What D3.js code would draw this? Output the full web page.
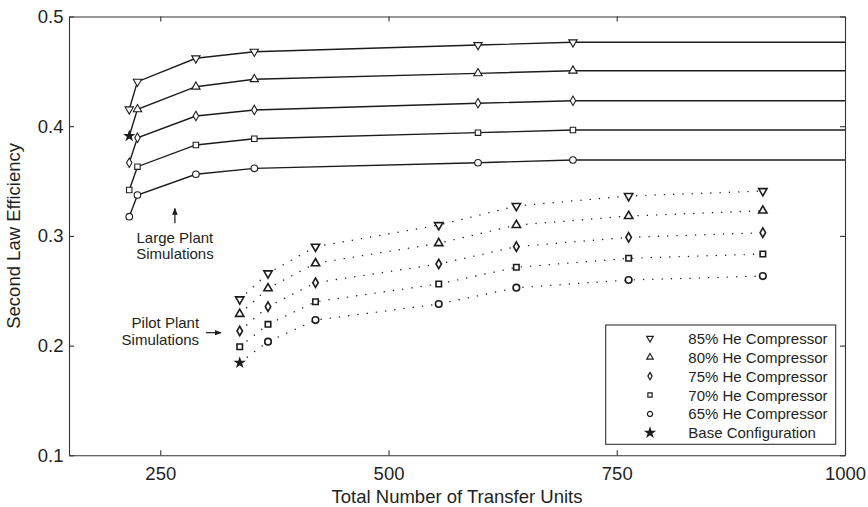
<!DOCTYPE html>
<html>
<head>
<meta charset="utf-8">
<script src="https://cdn.jsdelivr.net/npm/d3@7"></script>
<style>
  body { margin: 0; background: #fff; }
  text { font-family: "Liberation Sans", Arial, sans-serif; fill: #231f20; }
</style>
</head>
<body>
<script>
// values
var largeNTU = [216, 225, 289, 353, 598, 702];
var large85 = [0.4154, 0.4406, 0.4619, 0.4679, 0.4740, 0.4765];
var large80 = [0.3911, 0.4154, 0.4360, 0.4428, 0.4482, 0.4506];
var large75 = [0.3667, 0.3895, 0.4093, 0.4148, 0.4209, 0.4232];
var large70 = [0.3418, 0.3631, 0.3829, 0.3886, 0.3941, 0.3965];
var large65 = [0.3175, 0.3373, 0.3562, 0.3616, 0.3667, 0.3692];

var pilotNTU = [337, 368, 420, 555, 640, 763, 910];
var pilot85 = [0.2422, 0.2659, 0.2902, 0.3099, 0.3273, 0.3364, 0.3409];
var pilot80 = [0.2288, 0.2522, 0.2750, 0.2933, 0.3099, 0.3181, 0.3230];
var pilot75 = [0.2133, 0.2355, 0.2573, 0.2744, 0.2902, 0.2987, 0.3029];
var pilot70 = [0.1990, 0.2194, 0.2400, 0.2562, 0.2714, 0.2796, 0.2835];
var pilot65 = [0.1844, 0.2036, 0.2233, 0.2379, 0.2528, 0.2598, 0.2634];

var seriesNames = ["85% He Compressor", "80% He Compressor", "75% He Compressor",
                   "70% He Compressor", "65% He Compressor"];
var baseName = "Base Configuration";
// which point is the base configuration: [series index, point index]
var baseLarge = [1, 0];
var basePilot = [4, 0];

var xTicks = [250, 500, 750, 1000];
var yTicks = [0.1, 0.2, 0.3, 0.4, 0.5];

var W = 868, H = 507;
var margin = { top: 16.5, right: 23, bottom: 51.7, left: 69 };

var svg = d3.select("body").append("svg")
    .attr("width", W)
    .attr("height", H);

var x = d3.scaleLinear().domain([150, 1000]).range([margin.left, W - margin.right]);
var y = d3.scaleLinear().domain([0.1, 0.5]).range([H - margin.bottom, margin.top]);

var ink = "#1c1c1c";

svg.append("defs").append("clipPath").attr("id", "plot")
  .append("rect")
    .attr("x", margin.left).attr("y", margin.top)
    .attr("width", x.range()[1] - x.range()[0])
    .attr("height", y.range()[0] - y.range()[1]);

// symbols per series
var shapes = [
  { type: d3.symbolTriangle, rot: 180, size: 30 },
  { type: d3.symbolTriangle, rot: 0, size: 30 },
  { type: d3.symbolDiamond, rot: 0, size: 26 },
  { type: d3.symbolSquare, rot: 0, size: 30 },
  { type: d3.symbolCircle, rot: 0, size: 34 }
];
var starSym = d3.symbol().type(d3.symbolStar).size(48);

var largeSets = [large85, large80, large75, large70, large65];
var pilotSets = [pilot85, pilot80, pilot75, pilot70, pilot65];

var line = d3.line()
    .x(function (d) { return x(d[0]); })
    .y(function (d) { return y(d[1]); });

var g = svg.append("g").attr("clip-path", "url(#plot)");

// large plant: solid lines, running flat out to the right edge
largeSets.forEach(function (vals, i) {
  var pts = largeNTU.map(function (n, j) { return [n, vals[j]]; });
  var ext = pts.concat([[x.domain()[1], vals[vals.length - 1]]]);
  g.append("path")
    .attr("d", line(ext))
    .attr("fill", "none")
    .attr("stroke", ink)
    .attr("stroke-width", 1.4);
});

// pilot plant: dotted lines
pilotSets.forEach(function (vals, i) {
  var pts = pilotNTU.map(function (n, j) { return [n, vals[j]]; });
  g.append("path")
    .attr("d", line(pts))
    .attr("fill", "none")
    .attr("stroke", ink)
    .attr("stroke-width", 1.4)
    .attr("stroke-linecap", "round")
    .attr("stroke-dasharray", "0.1,9.2");
});

function drawMarkers(ntu, sets, base, sw) {
  sets.forEach(function (vals, i) {
    var sh = shapes[i];
    var sym = d3.symbol().type(sh.type).size(sh.size);
    vals.forEach(function (v, j) {
      var isBase = (base[0] === i && base[1] === j);
      var t = "translate(" + x(ntu[j]) + "," + y(v) + ")";
      if (isBase) {
        svg.append("path")
          .attr("d", starSym())
          .attr("transform", t)
          .attr("fill", ink);
      } else {
        svg.append("path")
          .attr("d", sym())
          .attr("transform", t + " rotate(" + sh.rot + ")")
          .attr("fill", "#fff")
          .attr("stroke", ink)
          .attr("stroke-width", sw);
      }
    });
  });
}
drawMarkers(largeNTU, largeSets, baseLarge, 1.1);
drawMarkers(pilotNTU, pilotSets, basePilot, 1.6);

// axes, ticks inside on all four sides
var fs = "18.5px";
var xAxis = svg.append("g")
    .attr("transform", "translate(0," + y.range()[0] + ")")
    .call(d3.axisBottom(x).tickValues(xTicks).tickFormat(d3.format("d"))
      .tickSize(-5).tickSizeOuter(0).tickPadding(11.5));
var yAxis = svg.append("g")
    .attr("transform", "translate(" + x.range()[0] + ",0)")
    .call(d3.axisLeft(y).tickValues(yTicks).tickFormat(d3.format(".1f")).tickSize(-5).tickSizeOuter(0).tickPadding(5.5));
var xTop = svg.append("g")
    .attr("transform", "translate(0," + y.range()[1] + ")")
    .call(d3.axisTop(x).tickValues(xTicks).tickSize(-5).tickSizeOuter(0).tickFormat(""));
var yRight = svg.append("g")
    .attr("transform", "translate(" + x.range()[1] + ",0)")
    .call(d3.axisRight(y).tickValues(yTicks).tickSize(-5).tickSizeOuter(0).tickFormat(""));

[xAxis, yAxis, xTop, yRight].forEach(function (a) {
  a.selectAll("path, line").attr("stroke", "#333").attr("stroke-width", 1.1);
  a.selectAll("text")
    .attr("font-size", fs)
    .attr("font-family", "'Liberation Sans', Arial, sans-serif")
    .attr("fill", "#231f20");
});

svg.append("text")
    .attr("x", (x.range()[0] + x.range()[1]) / 2 + 0)
    .attr("y", 503)
    .attr("text-anchor", "middle")
    .attr("font-size", fs)
    .text("Total Number of Transfer Units");

svg.append("text")
    .attr("transform", "translate(19.5," + ((y.range()[0] + y.range()[1]) / 2) + ") rotate(-90)")
    .attr("text-anchor", "middle")
    .attr("font-size", fs)
    .text("Second Law Efficiency");

// annotations with arrows
var defs = svg.select("defs");
defs.append("marker")
    .attr("id", "arr")
    .attr("viewBox", "0 0 10 10")
    .attr("refX", 9).attr("refY", 5)
    .attr("markerWidth", 7).attr("markerHeight", 7)
    .attr("markerUnits", "userSpaceOnUse")
    .attr("orient", "auto")
  .append("path")
    .attr("d", "M0,1 L10,5 L0,9 Z")
    .attr("fill", ink);

svg.append("line")
    .attr("x1", x(266)).attr("y1", y(0.3115))
    .attr("x2", x(266)).attr("y2", y(0.3250))
    .attr("stroke", ink).attr("stroke-width", 1.2)
    .attr("marker-end", "url(#arr)");
var lp = svg.append("text")
    .attr("text-anchor", "middle")
    .attr("font-size", "15px");
lp.append("tspan").attr("x", x(266)).attr("y", y(0.2938)).text("Large Plant");
lp.append("tspan").attr("x", x(266)).attr("y", y(0.2787)).text("Simulations");

svg.append("line")
    .attr("x1", x(300)).attr("y1", y(0.2118))
    .attr("x2", x(316.5)).attr("y2", y(0.2118))
    .attr("stroke", ink).attr("stroke-width", 1.2)
    .attr("marker-end", "url(#arr)");
var pp = svg.append("text")
    .attr("text-anchor", "end")
    .attr("font-size", "15px");
pp.append("tspan").attr("x", x(292.5)).attr("y", y(0.2158)).text("Pilot Plant");
pp.append("tspan").attr("x", x(292.5)).attr("y", y(0.2005)).text("Simulations");

// legend
var leg = svg.append("g");
leg.append("rect")
    .attr("x", 605.7).attr("y", 325)
    .attr("width", 230).attr("height", 119.3)
    .attr("fill", "#fff")
    .attr("stroke", "#333")
    .attr("stroke-width", 1.1);
var rowY = function (i) { return 338.3 + i * 18.9; };
seriesNames.forEach(function (name, i) {
  var sh = shapes[i];
  leg.append("path")
    .attr("d", d3.symbol().type(sh.type).size(sh.size * 0.6)())
    .attr("transform", "translate(650," + rowY(i) + ") rotate(" + sh.rot + ")")
    .attr("fill", "#fff")
    .attr("stroke", ink)
    .attr("stroke-width", 1.2);
  leg.append("text")
    .attr("x", 688.3).attr("y", rowY(i) + 5.5)
    .attr("font-size", "15px")
    .text(name);
});
leg.append("path")
    .attr("d", starSym())
    .attr("transform", "translate(650," + rowY(5) + ")")
    .attr("fill", ink);
leg.append("text")
    .attr("x", 688.3).attr("y", rowY(5) + 5.5)
    .attr("font-size", "15px")
    .text(baseName);
</script>
</body>
</html>
